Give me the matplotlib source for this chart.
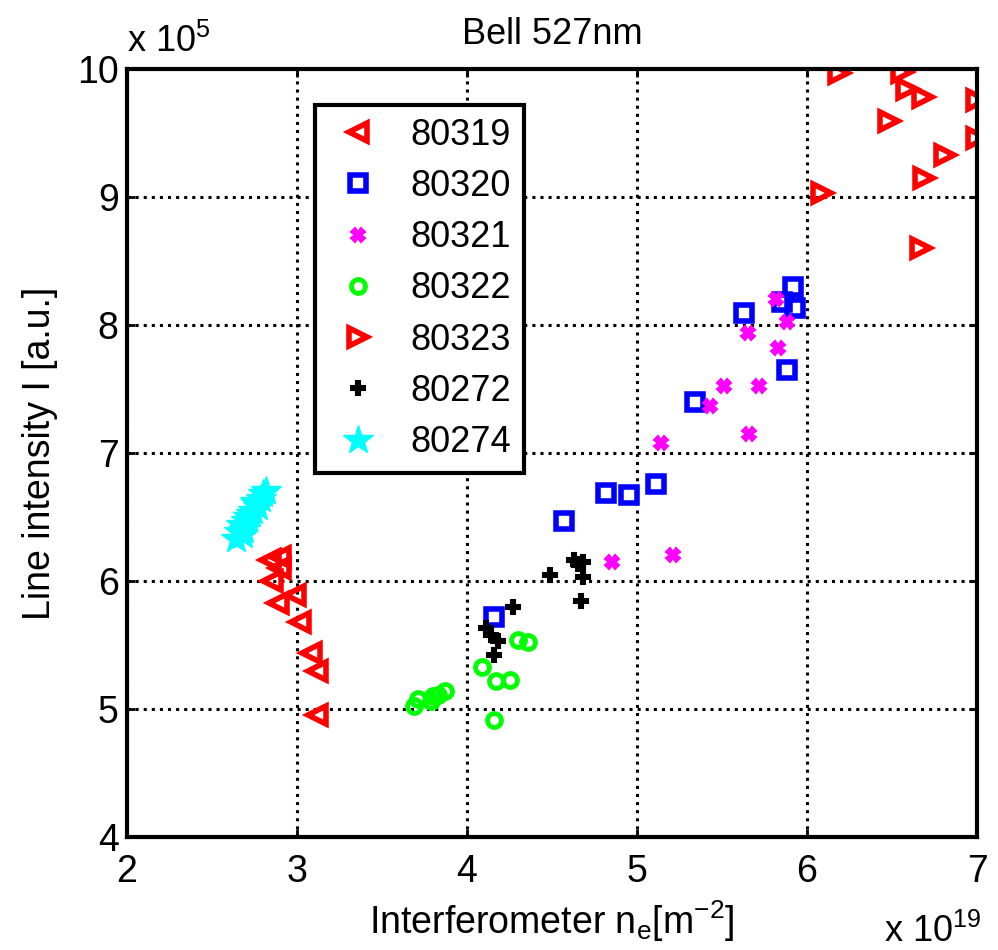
import matplotlib
matplotlib.use("Agg")
import matplotlib.pyplot as plt

# series, x in 1e19 m^-2, y in 1e5 a.u.
x_80319 = [2.84, 2.90, 2.90, 2.85, 2.99, 2.89, 3.02, 3.08, 3.12, 3.12]
y_80319 = [6.16, 6.19, 6.10, 6.00, 5.89, 5.83, 5.68, 5.44, 5.30, 4.95]

x_80320 = [4.16, 4.57, 4.82, 4.95, 5.11, 5.34, 5.63, 5.92, 5.85, 5.93, 5.88]
y_80320 = [5.72, 6.47, 6.69, 6.67, 6.76, 7.40, 8.09, 8.30, 8.18, 8.13, 7.65]

x_80321 = [5.82, 5.88, 5.65, 5.83, 5.51, 5.72, 5.43, 5.66, 5.14, 5.21, 4.85]
y_80321 = [8.20, 8.02, 7.94, 7.82, 7.52, 7.52, 7.37, 7.15, 7.08, 6.20, 6.15]

x_80322 = [3.69, 3.71, 3.80, 3.79, 3.87, 3.83, 4.09, 4.17, 4.25, 4.30, 4.36, 4.16]
y_80322 = [5.02, 5.08, 5.10, 5.06, 5.14, 5.11, 5.33, 5.22, 5.23, 5.54, 5.52, 4.91]

x_80323 = [6.19, 6.56, 6.59, 6.68, 7.00, 6.48, 7.00, 6.81, 6.69, 6.09, 6.67]
y_80323 = [9.97, 9.98, 9.84, 9.78, 9.76, 9.59, 9.46, 9.33, 9.15, 9.03, 8.60]

x_80272 = [4.27, 4.11, 4.14, 4.18, 4.16, 4.49, 4.63, 4.65, 4.68, 4.68, 4.67]
y_80272 = [5.80, 5.63, 5.58, 5.53, 5.42, 6.05, 6.16, 6.13, 6.15, 6.03, 5.84]

x_80274 = [2.64, 2.66, 2.67, 2.69, 2.70, 2.71, 2.73, 2.74, 2.76, 2.77, 2.79, 2.80, 2.82, 2.68, 2.75]
y_80274 = [6.33, 6.38, 6.44, 6.40, 6.47, 6.50, 6.52, 6.55, 6.60, 6.58, 6.64, 6.68, 6.70, 6.36, 6.62]

plt.rcParams['font.family'] = ['Liberation Sans', 'DejaVu Sans']
plt.rcParams['mathtext.fontset'] = 'custom'
plt.rcParams['mathtext.rm'] = 'Liberation Sans'
plt.rcParams['mathtext.it'] = 'Liberation Sans'

fig = plt.figure(figsize=(9.98, 9.5), dpi=100)
ax = fig.add_axes([0.1273, 0.119, 0.8517, 0.8084])

ax.plot(x_80319, y_80319, '<', color='red', mfc='none', ms=13, mew=4, ls='none', label='80319')
ax.plot(x_80320, y_80320, 's', color='blue', mfc='none', ms=12, mew=4, ls='none', label='80320')
ax.plot(x_80321, y_80321, 'X', color='magenta', ms=10, mew=1.5, ls='none', label='80321')
ax.plot(x_80322, y_80322, 'o', color='lime', mfc='none', ms=10, mew=3.5, ls='none', label='80322')
ax.plot(x_80323, y_80323, '>', color='red', mfc='none', ms=13, mew=4, ls='none', label='80323')
ax.plot(x_80272, y_80272, 'P', color='black', ms=10, mew=1.5, ls='none', label='80272')
ax.plot(x_80274, y_80274, '*', color='cyan', ms=22, ls='none', label='80274')

ax.set_xlim(2, 7)
ax.set_ylim(4, 10)
ax.set_xticks([2, 3, 4, 5, 6, 7])
ax.set_yticks([4, 5, 6, 7, 8, 9, 10])
ax.grid(True, color='black', ls=':', lw=2.2)
ax.tick_params(direction='in', length=6, width=2, labelsize=27,
               top=True, right=True)
ax.tick_params(axis='x', pad=12)
ax.tick_params(axis='y', pad=6)
for s in ax.spines.values():
    s.set_linewidth(3)

ax.set_title('Bell 527nm', fontsize=26, pad=18)
ax.set_ylabel('Line intensity I [a.u.]', fontsize=27, labelpad=14)
ax.set_xlabel('Interferometer $\\mathregular{n_e}$[m$^{-2}$]', fontsize=27, labelpad=6)

ax.text(0.0, 1.012, 'x 10$^{5}$', transform=ax.transAxes, fontsize=26, ha='left', va='bottom')
ax.text(1.005, -0.10, 'x 10$^{19}$', transform=ax.transAxes, fontsize=26, ha='right', va='top')

leg = ax.legend(loc='upper left', bbox_to_anchor=(0.221, 0.953), fancybox=False,
                edgecolor='black', framealpha=1, fontsize=26,
                labelspacing=0.45, handletextpad=0.6, borderpad=0.35, handlelength=1.7,
                borderaxespad=0)
leg.get_frame().set_linewidth(3)

fig.savefig('out.png', dpi=100)
